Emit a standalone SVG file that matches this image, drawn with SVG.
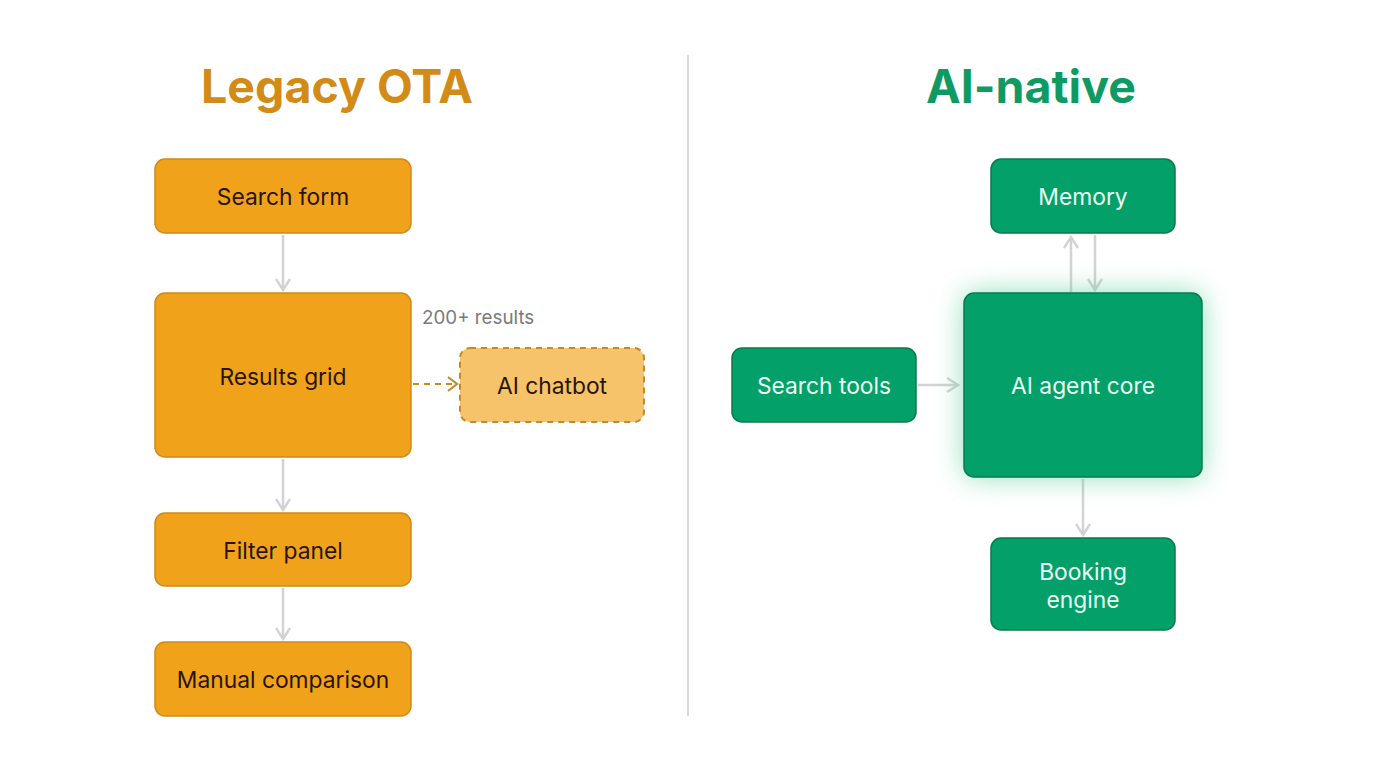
<svg xmlns="http://www.w3.org/2000/svg" width="1376" height="768" viewBox="0 0 1376 768">
<defs>
<style>
.title{font-family:Inter,"Liberation Sans",sans-serif;font-weight:700;font-size:46.5px;text-anchor:middle}
.lbl{font-family:Inter,"Liberation Sans",sans-serif;font-size:22.8px;text-anchor:middle;dominant-baseline:central}
.org{fill:#F0A21B;stroke:#CF8A18;stroke-width:1.5}
.orgt{fill:#2A1405}
.grn{fill:#03A06A;stroke:#0A7A4E;stroke-width:1.5}
.grnt{fill:#E9FFF4}
.conn{stroke:#D3D3D3;stroke-width:2.5;fill:none}
.dash{stroke:#C48A2A;stroke-width:2;fill:none;stroke-dasharray:6 5}
</style>
<marker id="ah" viewBox="0 0 14 16" refX="12" refY="8" markerWidth="14" markerHeight="16" markerUnits="userSpaceOnUse" orient="auto">
<path d="M1,1 L12,8 L1,15" fill="none" stroke="#D3D3D3" stroke-width="2.4"/>
</marker>
<marker id="ahd" viewBox="0 0 12 16" refX="10" refY="8" markerWidth="12" markerHeight="16" markerUnits="userSpaceOnUse" orient="auto">
<path d="M1,1 L10,8 L1,15" fill="none" stroke="#C48A2A" stroke-width="2.2"/>
</marker>
<filter id="glow" x="-40%" y="-40%" width="180%" height="180%">
<feGaussianBlur stdDeviation="14"/>
</filter>
</defs>
<rect width="1376" height="768" fill="#FFFFFF"/>
<line x1="688" y1="55" x2="688" y2="716" stroke="#D9D9D9" stroke-width="2"/>
<text class="title" x="337" y="103" fill="#D28B16">Legacy OTA</text>
<text class="title" x="1031" y="103" fill="#0E9A62">AI-native</text>

<g id="connectors">
<line class="conn" x1="283" y1="235" x2="283" y2="290" marker-end="url(#ah)"/>
<line class="conn" x1="283" y1="459" x2="283" y2="510" marker-end="url(#ah)"/>
<line class="conn" x1="283" y1="588" x2="283" y2="639" marker-end="url(#ah)"/>
<line class="dash" x1="413" y1="384" x2="457" y2="384" marker-end="url(#ahd)"/>
<line class="conn" x1="1071" y1="292" x2="1071" y2="237" marker-end="url(#ah)"/>
<line class="conn" x1="1095" y1="235" x2="1095" y2="290" marker-end="url(#ah)"/>
<line class="conn" x1="918" y1="385" x2="958" y2="385" marker-end="url(#ah)"/>
<line class="conn" x1="1083" y1="479" x2="1083" y2="535" marker-end="url(#ah)"/>
</g>

<g id="search-form"><rect class="org" x="155" y="159" width="256" height="74" rx="10"/><text class="lbl orgt" x="283" y="196">Search form</text></g>
<g id="results-grid"><rect class="org" x="155" y="293" width="256" height="164" rx="10"/><text class="lbl orgt" x="283" y="376">Results grid</text></g>
<g id="results-note"><text x="422" y="324" font-family="Inter,'Liberation Sans',sans-serif" font-size="18.8" fill="#7A7A7A">200+ results</text></g>
<g id="ai-chatbot"><rect x="460" y="348" width="184" height="74" rx="10" fill="#F6C36A" stroke="#C48A2A" stroke-width="2" stroke-dasharray="6 5"/><text class="lbl orgt" x="552" y="385">AI chatbot</text></g>
<g id="filter-panel"><rect class="org" x="155" y="513" width="256" height="73" rx="10"/><text class="lbl orgt" x="283" y="550">Filter panel</text></g>
<g id="manual-comparison"><rect class="org" x="155" y="642" width="256" height="74" rx="10"/><text class="lbl orgt" x="283" y="679">Manual comparison</text></g>

<g id="memory"><rect class="grn" x="991" y="159" width="184" height="74" rx="10"/><text class="lbl grnt" x="1083" y="196">Memory</text></g>
<g id="ai-agent-core"><rect x="964" y="293" width="238" height="184" rx="10" fill="#3CC98A" opacity="0.6" filter="url(#glow)"/><rect class="grn" x="964" y="293" width="238" height="184" rx="10"/><text class="lbl grnt" x="1083" y="385">AI agent core</text></g>
<g id="search-tools"><rect class="grn" x="732" y="348" width="184" height="74" rx="10"/><text class="lbl grnt" x="824" y="385">Search tools</text></g>
<g id="booking-engine"><rect class="grn" x="991" y="538" width="184" height="92" rx="10"/><text class="lbl grnt" x="1083" y="571">Booking</text><text class="lbl grnt" x="1083" y="599">engine</text></g>
</svg>
